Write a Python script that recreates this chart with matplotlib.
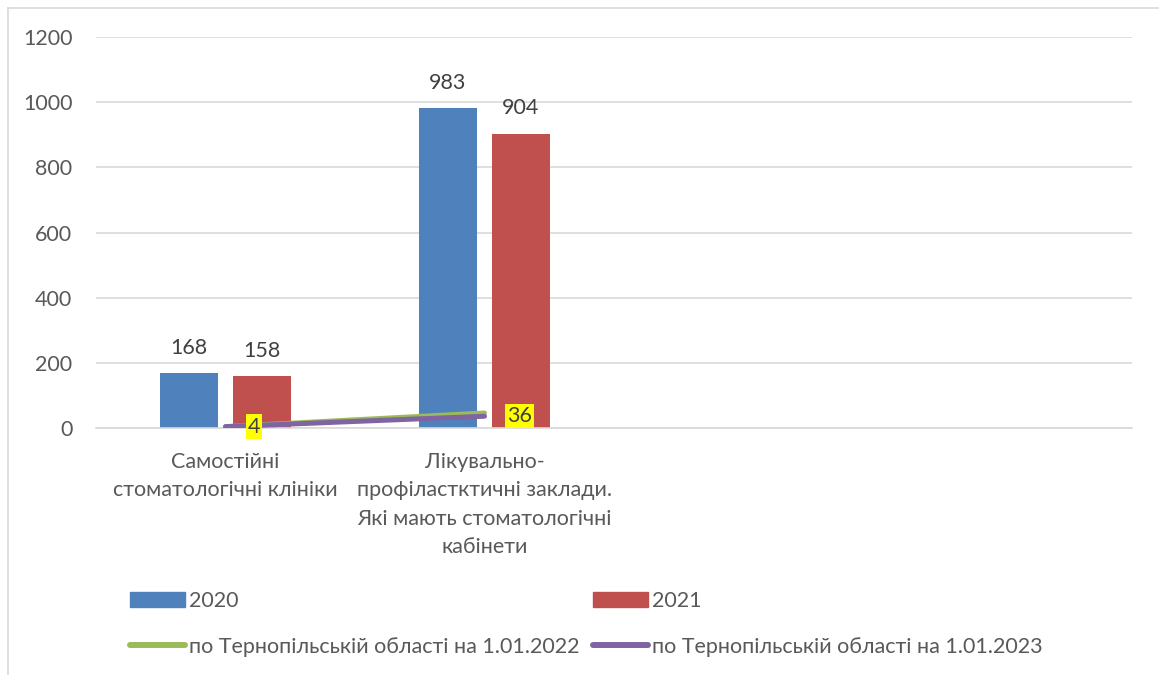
import matplotlib
matplotlib.use("Agg")
import matplotlib.pyplot as plt
from matplotlib.lines import Line2D
from matplotlib.patches import Patch
import numpy as np

plt.rcParams['font.family'] = ['Lato', 'DejaVu Sans']

# categories (the last two slots are empty in the source table)
categories = [
    "Самостійні\nстоматологічні клініки",
    "Лікувально-\nпрофіластктичні заклади.\nЯкі мають стоматологічні\nкабінети",
    "",
    "",
]
bars_2020 = [168, 983]
bars_2021 = [158, 904]
line_2022 = [4, 46]
line_2023 = [4, 36]

series_names = ["2020", "2021",
                "по Тернопільській області на 1.01.2022",
                "по Тернопільській області на 1.01.2023"]

BLUE = '#4F81BD'
RED = '#C0504D'
GREEN = '#9BBB59'
PURPLE = '#8064A2'
TEXT = '#595959'
FS = 15.5

fig = plt.figure(figsize=(11.59, 6.75), dpi=100)
ax = fig.add_axes([96 / 1159, 0.366, 1036 / 1159, 0.579])

x = np.arange(len(categories))
xb = x[:len(bars_2020)]
width = 0.224
off = 0.141

b1 = ax.bar(xb - off, bars_2020, width, color=BLUE, zorder=2)
b2 = ax.bar(xb + off, bars_2021, width, color=RED, zorder=2)
for bars, vals in ((b1, bars_2020), (b2, bars_2021)):
    for rect, v in zip(bars, vals):
        ax.annotate(str(v), (rect.get_x() + rect.get_width() / 2, v),
                    xytext=(0, 11), textcoords='offset points',
                    ha='center', va='bottom', fontsize=FS, color='#404040')

xl = x[:len(line_2022)]
ax.plot(xl, line_2022, color=GREEN, lw=3.6, solid_capstyle='round', zorder=3)
ax.plot(xl, line_2023, color=PURPLE, lw=3.6, solid_capstyle='round', zorder=4)
for xi, v in zip(xl, line_2023):
    ax.annotate(str(v), (xi, v), xytext=(16, 0), textcoords='offset points',
                ha='left', va='center', fontsize=FS, color='#404040',
                bbox=dict(boxstyle='square,pad=0.1', fc='yellow', ec='none'),
                zorder=5)

ax.set_xlim(-0.5, len(categories) - 0.5)
ax.set_ylim(0, 1200)
ax.set_yticks(range(0, 1201, 200))
ax.set_xticks(x)
ax.set_xticklabels(categories, fontsize=FS, color=TEXT, linespacing=1.54)
ax.tick_params(axis='y', length=0, pad=17, labelsize=FS, labelcolor=TEXT)
ax.tick_params(axis='x', length=0, pad=17)
ax.grid(axis='y', color='#d9d9d9', lw=1.2, zorder=0)
for s in ('top', 'right', 'left'):
    ax.spines[s].set_visible(False)
ax.spines['bottom'].set_color('#d9d9d9')
ax.spines['bottom'].set_linewidth(1.2)

handles = [
    Patch(color=BLUE),
    Line2D([], [], color=GREEN, lw=4.3, solid_capstyle='round'),
    Patch(color=RED),
    Line2D([], [], color=PURPLE, lw=4.3, solid_capstyle='round'),
]
labels = [series_names[0], series_names[2], series_names[1], series_names[3]]
fig.legend(handles, labels, ncol=2, loc='upper left',
           bbox_to_anchor=(130 / 1159, 1 - 591 / 675), frameon=False,
           fontsize=FS, labelcolor=TEXT, handlelength=2.55, handleheight=0.65,
           handletextpad=0.2, columnspacing=0.63, labelspacing=1.2,
           borderpad=0, borderaxespad=0)

# thin frame on the top and left edges
fig.add_artist(Line2D([8 / 1159, 8 / 1159], [0, 1 - 8 / 675],
                      transform=fig.transFigure, color='#d9d9d9', lw=1.2))
fig.add_artist(Line2D([8 / 1159, 1], [1 - 8 / 675, 1 - 8 / 675],
                      transform=fig.transFigure, color='#d9d9d9', lw=1.2))

fig.savefig('out.png', dpi=100)
